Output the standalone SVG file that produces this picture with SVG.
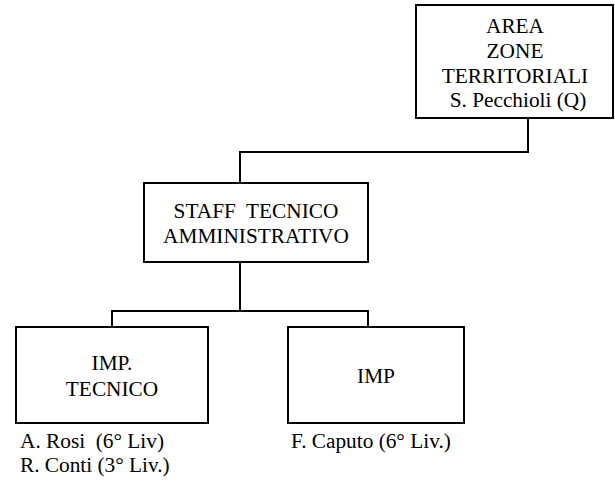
<svg xmlns="http://www.w3.org/2000/svg" width="615" height="487" viewBox="0 0 615 487">
<style>
.box{fill:#fff;stroke:#000;stroke-width:2}
.conn{fill:none;stroke:#000;stroke-width:2}
text{font-family:'Liberation Serif','Times New Roman',serif;font-size:21.3px;fill:#000}
.c{text-anchor:middle}
</style>
<rect width="615" height="487" fill="#fff"/>
<g id="connectors">
<polyline class="conn" points="528,118 528,152 240,152 240,183"/>
<polyline class="conn" points="240,262 240,311"/>
<polyline class="conn" points="112,327 112,311 368,311 368,327"/>
</g>
<g id="area">
<rect class="box" x="416" y="5" width="197" height="113"/>
<text class="c" x="515" y="33">AREA</text>
<text class="c" x="515" y="58">ZONE</text>
<text class="c" x="515" y="83">TERRITORIALI</text>
<text class="c" x="518" y="107">S. Pecchioli (Q)</text>
</g>
<g id="staff">
<rect class="box" x="144" y="183" width="224" height="79"/>
<text class="c" x="256" y="218" xml:space="preserve">STAFF  TECNICO</text>
<text class="c" x="256" y="243">AMMINISTRATIVO</text>
</g>
<g id="imp-tecnico">
<rect class="box" x="16" y="327" width="192" height="96"/>
<text class="c" x="112" y="370">IMP.</text>
<text class="c" x="112" y="396">TECNICO</text>
<text x="20" y="448" xml:space="preserve">A. Rosi  (6° Liv)</text>
<text x="20" y="472">R. Conti (3° Liv.)</text>
</g>
<g id="imp">
<rect class="box" x="288" y="327" width="176" height="96"/>
<text class="c" x="376" y="383">IMP</text>
<text x="291" y="448">F. Caputo (6° Liv.)</text>
</g>
</svg>
